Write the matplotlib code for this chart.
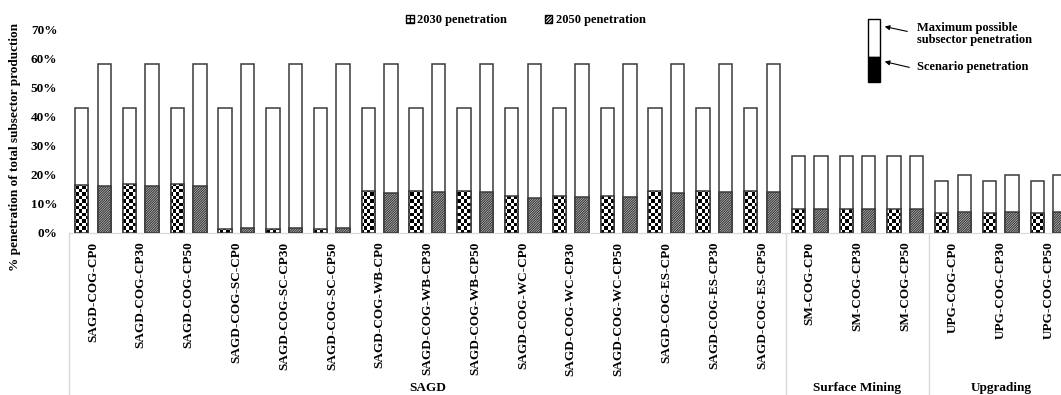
import numpy as np
import matplotlib
matplotlib.use('Agg')
from matplotlib import pyplot as plt
from matplotlib.patches import Patch, Rectangle
from matplotlib.path import Path
from matplotlib.lines import Line2D
import matplotlib.transforms as mtransforms

plt.rcParams['font.family'] = 'Liberation Serif'
plt.rcParams['font.weight'] = 'bold'
plt.rcParams['hatch.linewidth'] = 0.9

# --------------- data (in %) ---------------

scenarios = ['SAGD-COG-CP0', 'SAGD-COG-CP30', 'SAGD-COG-CP50',
             'SAGD-COG-SC-CP0', 'SAGD-COG-SC-CP30', 'SAGD-COG-SC-CP50',
             'SAGD-COG-WB-CP0', 'SAGD-COG-WB-CP30', 'SAGD-COG-WB-CP50',
             'SAGD-COG-WC-CP0', 'SAGD-COG-WC-CP30', 'SAGD-COG-WC-CP50',
             'SAGD-COG-ES-CP0', 'SAGD-COG-ES-CP30', 'SAGD-COG-ES-CP50',
             'SM-COG-CP0', 'SM-COG-CP30', 'SM-COG-CP50',
             'UPG-COG-CP0', 'UPG-COG-CP30', 'UPG-COG-CP50']
group_names = ['SAGD', 'Surface Mining', 'Upgrading']
group_sizes = [15, 3, 3]

pen_2030 = [16.6, 16.8, 16.8, 1.2, 1.2, 1.2, 14.2, 14.2, 14.4, 12.5, 12.6, 12.8,
            14.2, 14.2, 14.4, 8.2, 8.3, 8.3, 6.9, 6.9, 6.9]
pen_2050 = [16.0, 16.2, 16.2, 1.5, 1.5, 1.5, 13.6, 13.9, 13.9, 11.9, 12.2, 12.2,
            13.7, 13.9, 13.9, 8.3, 8.3, 8.3, 7.1, 7.1, 7.1]
max_2030 = [43.2, 43.2, 43.2, 43.2, 43.2, 43.2, 43.2, 43.2, 43.2, 43.2, 43.2, 43.2,
            43.2, 43.2, 43.2, 26.4, 26.4, 26.4, 17.9, 17.9, 17.9]
max_2050 = [58.2, 58.2, 58.2, 58.2, 58.2, 58.2, 58.2, 58.2, 58.2, 58.2, 58.2, 58.2,
            58.2, 58.2, 58.2, 26.4, 26.4, 26.4, 19.8, 19.8, 19.8]

# --------------- chart ---------------

W, H = 1061, 395
fig = plt.figure(figsize=(W / 100, H / 100), dpi=100)
ax = fig.add_axes([69.1 / W, 162.4 / H, 1003.4 / W, 202.7 / H])

x = np.arange(len(scenarios))
width = 0.28
off = 0.236
edge = '#3a3a3a'

# white "maximum possible" bars behind
ax.bar(x - off, max_2030, width, color='white', edgecolor=edge, linewidth=1.1, zorder=1)
ax.bar(x + off, max_2050, width, color='white', edgecolor=edge, linewidth=1.1, zorder=1)

# 2030: checkerboard fill, done with an image clipped to the bars
bars30 = ax.bar(x - off, pen_2030, width, facecolor='none', edgecolor=edge,
                linewidth=1.1, zorder=3)
paths = [b.get_path().transformed(b.get_patch_transform()) for b in bars30]
clip = Path.make_compound_path(*paths)
rows, cols = 60, 300
checker = (np.add.outer(np.arange(rows), np.arange(cols)) % 2).astype(float)
img = ax.imshow(checker, extent=(-0.5, len(x) - 0.5, 0, 70), aspect='auto',
                cmap='gray', interpolation='nearest', zorder=2)
img.set_clip_path(clip, ax.transData)

# 2050: dense diagonal hatch
ax.bar(x + off, pen_2050, width, facecolor='white', edgecolor=edge, hatch='/' * 14,
       linewidth=1.1, zorder=3)

ax.set_xlim(-0.5, len(x) - 0.5)
ax.set_ylim(0, 70)
ax.set_yticks(range(0, 71, 10))
ax.set_yticklabels([f'{v}%' for v in range(0, 71, 10)], fontsize=9.5, fontweight='bold')
ax.set_xticks(x)
ax.set_xticklabels(scenarios, rotation=90, fontsize=9.5, fontweight='bold')
ax.tick_params(axis='y', length=0, pad=8.5)
ax.tick_params(axis='x', length=0, pad=6.5)
for s in ['top', 'right', 'left']:
    ax.spines[s].set_visible(False)
ax.spines['bottom'].set_color('#d9d9d9')

# group dividers and group names under the category labels
trans = mtransforms.blended_transform_factory(ax.transData, ax.transAxes)
bounds = np.concatenate([[0], np.cumsum(group_sizes)]) - 0.5
for b in bounds:
    ax.add_line(Line2D([b, b], [0, -0.81], transform=trans, color='#d9d9d9',
                       linewidth=1, clip_on=False))
for name, lo, hi in zip(group_names, bounds[:-1], bounds[1:]):
    ax.text((lo + hi) / 2, -0.765, name, transform=trans, ha='center', va='center',
            fontsize=9.5, fontweight='bold')

fig.text(15 / W, 1 - 147 / H, '% penetration of total subsector production', rotation=90,
         ha='center', va='center', fontsize=9.5, fontweight='bold')

# legend at the top
handles = [Patch(facecolor='white', edgecolor='black', hatch='++++', label='2030 penetration'),
           Patch(facecolor='white', edgecolor='black', hatch='/' * 10, label='2050 penetration')]
fig.legend(handles=handles, loc='center', bbox_to_anchor=(526 / W, 1 - 20 / H), ncol=2,
           frameon=False, handlelength=0.6, handleheight=0.6, handletextpad=0.3,
           columnspacing=3.0, prop={'size': 9, 'weight': 'bold'})

# key explaining the stacked bars (top right)
fig.add_artist(Rectangle((868 / W, 1 - 57 / H), 12 / W, 38 / H, facecolor='white',
                         edgecolor='black', linewidth=1, transform=fig.transFigure))
fig.add_artist(Rectangle((868 / W, 1 - 82 / H), 12 / W, 25 / H, facecolor='black',
                         edgecolor='black', linewidth=1, transform=fig.transFigure))
fig.text(917 / W, 1 - 34 / H, 'Maximum possible\nsubsector penetration', ha='left',
         va='center', fontsize=9, fontweight='bold', linespacing=1.1)
fig.text(917 / W, 1 - 67 / H, 'Scenario penetration', ha='left', va='center',
         fontsize=9, fontweight='bold')
arrow = dict(arrowstyle='-|>', color='black', lw=0.8, mutation_scale=7)
ax.annotate('', xy=(882 / W, 1 - 26 / H), xytext=(910 / W, 1 - 32 / H),
            xycoords='figure fraction', textcoords='figure fraction', arrowprops=arrow)
ax.annotate('', xy=(882 / W, 1 - 61 / H), xytext=(912 / W, 1 - 68 / H),
            xycoords='figure fraction', textcoords='figure fraction', arrowprops=arrow)

plt.savefig('out.png', dpi=100)
